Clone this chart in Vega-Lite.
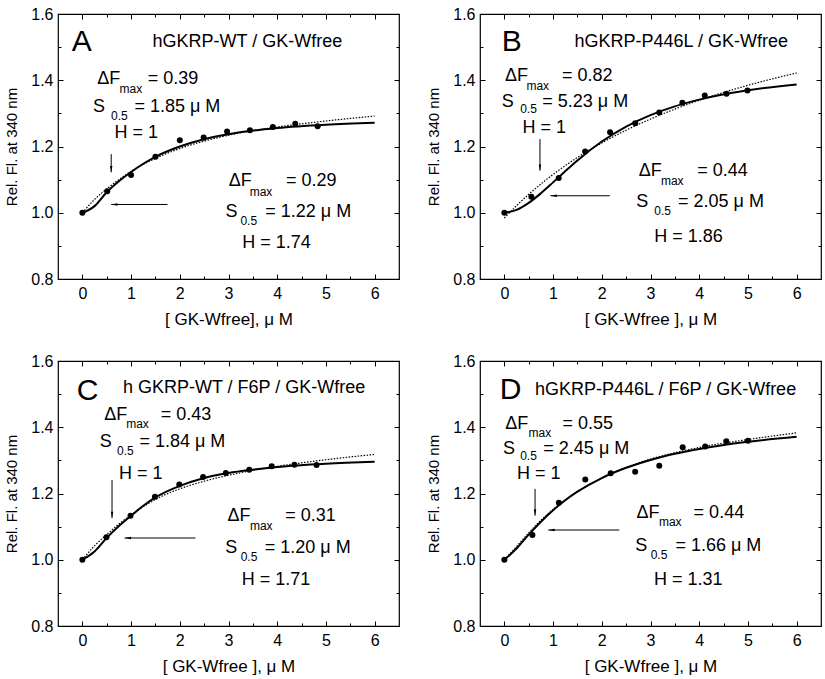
{
"$schema": "https://vega.github.io/schema/vega-lite/v6.json",
"background": "white",
"padding": {"left": 4, "top": 5, "right": 5, "bottom": 5},
"config": {
 "view": {"stroke": "black", "strokeWidth": 1.2},
 "axis": {"domain": false, "grid": false, "tickColor": "black", "tickWidth": 1, "labelFont": "Liberation Sans", "labelFontSize": 16, "labelColor": "black", "titleFont": "Liberation Sans", "titleFontSize": 17, "titleFontWeight": "normal", "titleColor": "black"},
 "axisLeft": {"titleFontSize": 15},
 "text": {"font": "Liberation Sans", "color": "black"}
},
"datasets": {
 "pts": [
  {"p":"A","x":0,"y":1.0},{"p":"A","x":0.51,"y":1.065},{"p":"A","x":1.0,"y":1.114},{"p":"A","x":1.5,"y":1.169},{"p":"A","x":2.0,"y":1.219},{"p":"A","x":2.49,"y":1.227},{"p":"A","x":2.97,"y":1.245},{"p":"A","x":3.44,"y":1.249},{"p":"A","x":3.91,"y":1.259},{"p":"A","x":4.37,"y":1.269},{"p":"A","x":4.83,"y":1.261},
  {"p":"B","x":0,"y":1.0},{"p":"B","x":0.555,"y":1.048},{"p":"B","x":1.116,"y":1.105},{"p":"B","x":1.658,"y":1.185},{"p":"B","x":2.17,"y":1.243},{"p":"B","x":2.686,"y":1.27},{"p":"B","x":3.18,"y":1.303},{"p":"B","x":3.654,"y":1.332},{"p":"B","x":4.114,"y":1.354},{"p":"B","x":4.56,"y":1.359},{"p":"B","x":4.99,"y":1.369},
  {"p":"C","x":0,"y":1.0},{"p":"C","x":0.494,"y":1.068},{"p":"C","x":0.988,"y":1.133},{"p":"C","x":1.49,"y":1.19},{"p":"C","x":1.99,"y":1.227},{"p":"C","x":2.478,"y":1.25},{"p":"C","x":2.945,"y":1.262},{"p":"C","x":3.426,"y":1.272},{"p":"C","x":3.886,"y":1.282},{"p":"C","x":4.353,"y":1.287},{"p":"C","x":4.807,"y":1.286},
  {"p":"D","x":0,"y":1.0},{"p":"D","x":0.576,"y":1.075},{"p":"D","x":1.119,"y":1.172},{"p":"D","x":1.661,"y":1.242},{"p":"D","x":2.183,"y":1.261},{"p":"D","x":2.685,"y":1.266},{"p":"D","x":3.18,"y":1.284},{"p":"D","x":3.661,"y":1.34},{"p":"D","x":4.122,"y":1.342},{"p":"D","x":4.556,"y":1.358},{"p":"D","x":5.0,"y":1.359}
 ],
 "fit": [
  {"p":"A","m":"hill","x":0,"y":1.0},{"p":"A","m":"hill","x":0.25,"y":1.02},{"p":"A","m":"hill","x":0.5,"y":1.062},{"p":"A","m":"hill","x":0.75,"y":1.095},{"p":"A","m":"hill","x":1,"y":1.123},{"p":"A","m":"hill","x":1.25,"y":1.148},{"p":"A","m":"hill","x":1.5,"y":1.169},{"p":"A","m":"hill","x":2,"y":1.2},{"p":"A","m":"hill","x":2.5,"y":1.222},{"p":"A","m":"hill","x":3,"y":1.237},{"p":"A","m":"hill","x":3.5,"y":1.248},{"p":"A","m":"hill","x":4,"y":1.256},{"p":"A","m":"hill","x":5,"y":1.266},{"p":"A","m":"hill","x":6,"y":1.272},
  {"p":"A","m":"hyp","x":0,"y":1.0},{"p":"A","m":"hyp","x":0.25,"y":1.04},{"p":"A","m":"hyp","x":0.5,"y":1.072},{"p":"A","m":"hyp","x":0.75,"y":1.1},{"p":"A","m":"hyp","x":1,"y":1.125},{"p":"A","m":"hyp","x":1.25,"y":1.146},{"p":"A","m":"hyp","x":1.5,"y":1.164},{"p":"A","m":"hyp","x":2,"y":1.194},{"p":"A","m":"hyp","x":2.5,"y":1.216},{"p":"A","m":"hyp","x":3,"y":1.234},{"p":"A","m":"hyp","x":3.5,"y":1.248},{"p":"A","m":"hyp","x":4,"y":1.259},{"p":"A","m":"hyp","x":5,"y":1.277},{"p":"A","m":"hyp","x":6,"y":1.292},
  {"p":"B","m":"hill","x":0,"y":1.0},{"p":"B","m":"hill","x":0.25,"y":1.0086},{"p":"B","m":"hill","x":0.5,"y":1.0297},{"p":"B","m":"hill","x":0.75,"y":1.0588},{"p":"B","m":"hill","x":1,"y":1.0917},{"p":"B","m":"hill","x":1.25,"y":1.1254},{"p":"B","m":"hill","x":1.5,"y":1.1579},{"p":"B","m":"hill","x":2,"y":1.215},{"p":"B","m":"hill","x":2.5,"y":1.2602},{"p":"B","m":"hill","x":3,"y":1.2948},{"p":"B","m":"hill","x":3.5,"y":1.3212},{"p":"B","m":"hill","x":4,"y":1.3415},{"p":"B","m":"hill","x":5,"y":1.3696},{"p":"B","m":"hill","x":6,"y":1.3874},
  {"p":"B","m":"hyp","x":0,"y":0.984},{"p":"B","m":"hyp","x":0.25,"y":1.0214},{"p":"B","m":"hyp","x":0.5,"y":1.0556},{"p":"B","m":"hyp","x":0.75,"y":1.0868},{"p":"B","m":"hyp","x":1,"y":1.1156},{"p":"B","m":"hyp","x":1.25,"y":1.1422},{"p":"B","m":"hyp","x":1.5,"y":1.1668},{"p":"B","m":"hyp","x":2,"y":1.2108},{"p":"B","m":"hyp","x":2.5,"y":1.2492},{"p":"B","m":"hyp","x":3,"y":1.2829},{"p":"B","m":"hyp","x":3.5,"y":1.3128},{"p":"B","m":"hyp","x":4,"y":1.3394},{"p":"B","m":"hyp","x":5,"y":1.3848},{"p":"B","m":"hyp","x":6,"y":1.4221},
  {"p":"C","m":"hill","x":0,"y":1.0},{"p":"C","m":"hill","x":0.25,"y":1.025},{"p":"C","m":"hill","x":0.5,"y":1.066},{"p":"C","m":"hill","x":0.75,"y":1.102},{"p":"C","m":"hill","x":1,"y":1.133},{"p":"C","m":"hill","x":1.25,"y":1.163},{"p":"C","m":"hill","x":1.5,"y":1.188},{"p":"C","m":"hill","x":2,"y":1.223},{"p":"C","m":"hill","x":2.5,"y":1.247},{"p":"C","m":"hill","x":3,"y":1.262},{"p":"C","m":"hill","x":3.5,"y":1.272},{"p":"C","m":"hill","x":4,"y":1.28},{"p":"C","m":"hill","x":5,"y":1.29},{"p":"C","m":"hill","x":6,"y":1.296},
  {"p":"C","m":"hyp","x":0,"y":1.0},{"p":"C","m":"hyp","x":0.25,"y":1.042},{"p":"C","m":"hyp","x":0.5,"y":1.076},{"p":"C","m":"hyp","x":0.75,"y":1.108},{"p":"C","m":"hyp","x":1,"y":1.135},{"p":"C","m":"hyp","x":1.25,"y":1.16},{"p":"C","m":"hyp","x":1.5,"y":1.182},{"p":"C","m":"hyp","x":2,"y":1.214},{"p":"C","m":"hyp","x":2.5,"y":1.237},{"p":"C","m":"hyp","x":3,"y":1.255},{"p":"C","m":"hyp","x":3.5,"y":1.27},{"p":"C","m":"hyp","x":4,"y":1.282},{"p":"C","m":"hyp","x":5,"y":1.302},{"p":"C","m":"hyp","x":6,"y":1.318},
  {"p":"D","m":"hill","x":0,"y":1.0},{"p":"D","m":"hill","x":0.25,"y":1.034},{"p":"D","m":"hill","x":0.5,"y":1.0757},{"p":"D","m":"hill","x":0.75,"y":1.1149},{"p":"D","m":"hill","x":1,"y":1.1496},{"p":"D","m":"hill","x":1.25,"y":1.1796},{"p":"D","m":"hill","x":1.5,"y":1.2054},{"p":"D","m":"hill","x":2,"y":1.2467},{"p":"D","m":"hill","x":2.5,"y":1.2776},{"p":"D","m":"hill","x":3,"y":1.3013},{"p":"D","m":"hill","x":3.5,"y":1.3197},{"p":"D","m":"hill","x":4,"y":1.3344},{"p":"D","m":"hill","x":5,"y":1.356},{"p":"D","m":"hill","x":6,"y":1.3711},
  {"p":"D","m":"hyp","x":0,"y":1.0},{"p":"D","m":"hyp","x":0.25,"y":1.04},{"p":"D","m":"hyp","x":0.5,"y":1.081},{"p":"D","m":"hyp","x":0.75,"y":1.119},{"p":"D","m":"hyp","x":1,"y":1.152},{"p":"D","m":"hyp","x":1.25,"y":1.181},{"p":"D","m":"hyp","x":1.5,"y":1.206},{"p":"D","m":"hyp","x":2,"y":1.247},{"p":"D","m":"hyp","x":2.5,"y":1.279},{"p":"D","m":"hyp","x":3,"y":1.304},{"p":"D","m":"hyp","x":3.5,"y":1.323},{"p":"D","m":"hyp","x":4,"y":1.339},{"p":"D","m":"hyp","x":5,"y":1.363},{"p":"D","m":"hyp","x":6,"y":1.383}
 ],
 "lbl": [
  {"p":"A","k":"big","x":-0.22,"y":1.514,"t":"A"},{"p":"A","k":"main","x":1.44,"y":1.514,"t":"hGKRP-WT / GK-Wfree"},
  {"p":"A","k":"main","x":0.306,"y":1.4035,"t":"ΔF"},{"p":"A","k":"main","x":1.34,"y":1.4035,"t":"= 0.39"},{"p":"A","k":"main","x":0.218,"y":1.318,"t":"S"},{"p":"A","k":"main","x":1.068,"y":1.318,"t":"= 1.85 μ M"},{"p":"A","k":"main","x":0.66,"y":1.2395,"t":"H = 1"},
  {"p":"A","k":"main","x":3.007,"y":1.0946,"t":"ΔF"},{"p":"A","k":"main","x":4.18,"y":1.0946,"t":"= 0.29"},{"p":"A","k":"main","x":2.94,"y":1.001,"t":"S"},{"p":"A","k":"main","x":3.755,"y":1.001,"t":"= 1.22 μ M"},{"p":"A","k":"main","x":3.28,"y":0.908,"t":"H = 1.74"},
  {"p":"A","k":"sub","x":0.762,"y":1.375,"t":"max"},{"p":"A","k":"sub","x":0.59,"y":1.293,"t":"0.5"},{"p":"A","k":"sub","x":3.435,"y":1.064,"t":"max"},{"p":"A","k":"sub","x":3.245,"y":0.976,"t":"0.5"},
  {"p":"B","k":"big","x":-0.054,"y":1.516,"t":"B"},{"p":"B","k":"main","x":1.44,"y":1.514,"t":"hGKRP-P446L / GK-Wfree"},
  {"p":"B","k":"main","x":0.014,"y":1.4116,"t":"ΔF"},{"p":"B","k":"main","x":1.184,"y":1.4116,"t":"= 0.82"},{"p":"B","k":"main","x":-0.054,"y":1.333,"t":"S"},{"p":"B","k":"main","x":0.778,"y":1.333,"t":"= 5.23 μ M"},{"p":"B","k":"main","x":0.372,"y":1.2556,"t":"H = 1"},
  {"p":"B","k":"main","x":2.76,"y":1.1268,"t":"ΔF"},{"p":"B","k":"main","x":3.958,"y":1.1268,"t":"= 0.44"},{"p":"B","k":"main","x":2.706,"y":1.031,"t":"S"},{"p":"B","k":"main","x":3.566,"y":1.031,"t":"= 2.05 μ M"},{"p":"B","k":"main","x":3.078,"y":0.9255,"t":"H = 1.86"},
  {"p":"B","k":"sub","x":0.453,"y":1.383,"t":"max"},{"p":"B","k":"sub","x":0.325,"y":1.313,"t":"0.5"},{"p":"B","k":"sub","x":3.214,"y":1.0966,"t":"max"},{"p":"B","k":"sub","x":3.078,"y":1.004,"t":"0.5"},
  {"p":"C","k":"big","x":-0.115,"y":1.509,"t":"C"},{"p":"C","k":"main","x":0.833,"y":1.517,"t":"h GKRP-WT / F6P / GK-Wfree"},
  {"p":"C","k":"main","x":0.447,"y":1.4366,"t":"ΔF"},{"p":"C","k":"main","x":1.611,"y":1.4366,"t":"= 0.43"},{"p":"C","k":"main","x":0.359,"y":1.356,"t":"S"},{"p":"C","k":"main","x":1.171,"y":1.356,"t":"= 1.84 μ M"},{"p":"C","k":"main","x":0.7515,"y":1.259,"t":"H = 1"},
  {"p":"C","k":"main","x":2.979,"y":1.131,"t":"ΔF"},{"p":"C","k":"main","x":4.164,"y":1.131,"t":"= 0.31"},{"p":"C","k":"main","x":2.932,"y":1.0356,"t":"S"},{"p":"C","k":"main","x":3.744,"y":1.0356,"t":"= 1.20 μ M"},{"p":"C","k":"main","x":3.27,"y":0.94,"t":"H = 1.71"},
  {"p":"C","k":"sub","x":0.9,"y":1.4085,"t":"max"},{"p":"C","k":"sub","x":0.711,"y":1.329,"t":"0.5"},{"p":"C","k":"sub","x":3.44,"y":1.101,"t":"max"},{"p":"C","k":"sub","x":3.25,"y":1.0085,"t":"0.5"},
  {"p":"D","k":"big","x":-0.095,"y":1.5136,"t":"D"},{"p":"D","k":"main","x":0.63,"y":1.5136,"t":"hGKRP-P446L / F6P / GK-Wfree"},
  {"p":"D","k":"main","x":0.02,"y":1.4107,"t":"ΔF"},{"p":"D","k":"main","x":1.193,"y":1.4107,"t":"= 0.55"},{"p":"D","k":"main","x":-0.027,"y":1.335,"t":"S"},{"p":"D","k":"main","x":0.8,"y":1.335,"t":"= 2.45 μ M"},{"p":"D","k":"main","x":0.258,"y":1.2594,"t":"H = 1"},
  {"p":"D","k":"main","x":2.712,"y":1.14,"t":"ΔF"},{"p":"D","k":"main","x":3.885,"y":1.14,"t":"= 0.44"},{"p":"D","k":"main","x":2.685,"y":1.0424,"t":"S"},{"p":"D","k":"main","x":3.512,"y":1.0424,"t":"= 1.66 μ M"},{"p":"D","k":"main","x":3.071,"y":0.9384,"t":"H = 1.31"},
  {"p":"D","k":"sub","x":0.495,"y":1.3824,"t":"max"},{"p":"D","k":"sub","x":0.325,"y":1.314,"t":"0.5"},{"p":"D","k":"sub","x":3.173,"y":1.113,"t":"max"},{"p":"D","k":"sub","x":3.003,"y":1.015,"t":"0.5"}
 ],
 "arr": [
  {"p":"A","x":0.592,"y":1.177,"x2":0.592,"y2":1.122,"d":"down"},{"p":"A","x":1.748,"y":1.025,"x2":0.592,"y2":1.025,"d":"left"},
  {"p":"B","x":0.731,"y":1.2224,"x2":0.731,"y2":1.1268,"d":"down"},{"p":"B","x":2.165,"y":1.0513,"x2":0.947,"y2":1.0513,"d":"left"},
  {"p":"C","x":0.609,"y":1.241,"x2":0.609,"y2":1.1258,"d":"down"},{"p":"C","x":2.322,"y":1.0657,"x2":0.867,"y2":1.0657,"d":"left"},
  {"p":"D","x":0.63,"y":1.214,"x2":0.63,"y2":1.133,"d":"down"},{"p":"D","x":2.359,"y":1.0898,"x2":0.902,"y2":1.0898,"d":"left"}
 ]
},
"spacing": 24,
"vconcat": [
{"hconcat": [
{"width": 341, "height": 265, "resolve": {"axis": {"x": "independent", "y": "independent"}},
 "layer": [
  {"data": {"name": "pts"}, "transform": [{"filter": "datum.p == 'A'"}], "mark": {"type": "circle", "color": "black", "size": 36, "opacity": 1},
   "encoding": {"x": {"field": "x", "type": "quantitative", "scale": {"domain": [-0.5, 6.5], "nice": false, "zero": false}, "axis": {"orient": "bottom", "values": [0,1,2,3,4,5,6], "tickSize": -5, "labelPadding": 11, "title": "[ GK-Wfree], μ M", "titlePadding": 10}},
                "y": {"field": "y", "type": "quantitative", "scale": {"domain": [0.8, 1.6], "nice": false, "zero": false}, "axis": {"orient": "left", "values": [0.8,1.0,1.2,1.4,1.6], "format": ".1f", "tickSize": -5, "labelPadding": 10, "title": "Rel. Fl. at 340 nm", "titlePadding": 11}}}},
  {"data": {"name": "fit"}, "transform": [{"filter": "datum.p == 'A' && datum.m == 'hill'"}], "mark": {"type": "line", "color": "black", "strokeWidth": 2, "interpolate": "monotone"},
   "encoding": {"x": {"field": "x", "type": "quantitative", "scale": {"domain": [-0.5, 6.5], "nice": false, "zero": false}, "axis": {"orient": "top", "values": [0,1,2,3,4,5,6], "tickSize": -5, "labels": false, "title": null}},
                "y": {"field": "y", "type": "quantitative", "scale": {"domain": [0.8, 1.6], "nice": false, "zero": false}, "axis": {"orient": "right", "values": [0.8,1.0,1.2,1.4,1.6], "tickSize": -5, "labels": false, "title": null}}}},
  {"data": {"name": "fit"}, "transform": [{"filter": "datum.p == 'A' && datum.m == 'hyp'"}], "mark": {"type": "line", "color": "black", "strokeWidth": 1.2, "strokeDash": [1.5, 1.5], "interpolate": "monotone"},
   "encoding": {"x": {"field": "x", "type": "quantitative", "scale": {"domain": [-0.5, 6.5], "nice": false, "zero": false}, "axis": {"orient": "bottom", "values": [0.5,1.5,2.5,3.5,4.5,5.5], "tickSize": -3, "labels": false, "title": null}},
                "y": {"field": "y", "type": "quantitative", "scale": {"domain": [0.8, 1.6], "nice": false, "zero": false}, "axis": {"orient": "left", "values": [0.9,1.1,1.3,1.5], "tickSize": -3, "labels": false, "title": null}}}},
  {"data": {"name": "lbl"}, "transform": [{"filter": "datum.p == 'A' && datum.k == 'main'"}], "mark": {"type": "text", "align": "left", "baseline": "middle", "fontSize": 18},
   "encoding": {"x": {"field": "x", "type": "quantitative", "scale": {"domain": [-0.5, 6.5], "nice": false, "zero": false}, "axis": {"orient": "top", "values": [0.5,1.5,2.5,3.5,4.5,5.5], "tickSize": -3, "labels": false, "title": null}},
                "y": {"field": "y", "type": "quantitative", "scale": {"domain": [0.8, 1.6], "nice": false, "zero": false}, "axis": {"orient": "right", "values": [0.9,1.1,1.3,1.5], "tickSize": -3, "labels": false, "title": null}},
                "text": {"field": "t"}}},
  {"data": {"name": "lbl"}, "transform": [{"filter": "datum.p == 'A' && datum.k == 'sub'"}], "mark": {"type": "text", "align": "left", "baseline": "middle", "fontSize": 12},
   "encoding": {"x": {"field": "x", "type": "quantitative", "axis": null}, "y": {"field": "y", "type": "quantitative", "axis": null}, "text": {"field": "t"}}},
  {"data": {"name": "lbl"}, "transform": [{"filter": "datum.p == 'A' && datum.k == 'big'"}], "mark": {"type": "text", "align": "left", "baseline": "middle", "fontSize": 30},
   "encoding": {"x": {"field": "x", "type": "quantitative", "axis": null}, "y": {"field": "y", "type": "quantitative", "axis": null}, "text": {"field": "t"}}},
  {"data": {"name": "arr"}, "transform": [{"filter": "datum.p == 'A'"}], "mark": {"type": "rule", "color": "black", "strokeWidth": 1},
   "encoding": {"x": {"field": "x", "type": "quantitative", "axis": null}, "y": {"field": "y", "type": "quantitative", "axis": null}, "x2": {"field": "x2"}, "y2": {"field": "y2"}}},
  {"data": {"name": "arr"}, "transform": [{"filter": "datum.p == 'A'"}], "mark": {"type": "point", "filled": true, "color": "black", "size": 24, "opacity": 1},
   "encoding": {"x": {"field": "x2", "type": "quantitative", "axis": null}, "y": {"field": "y2", "type": "quantitative", "axis": null},
                "shape": {"field": "d", "type": "nominal", "scale": {"domain": ["down", "left"], "range": ["M-0.5,-2.6L0,0L0.5,-2.6Z", "M2.6,-0.5L0,0L2.6,0.5Z"]}, "legend": null}}}
 ]},
{"width": 341, "height": 265, "resolve": {"axis": {"x": "independent", "y": "independent"}},
 "layer": [
  {"data": {"name": "pts"}, "transform": [{"filter": "datum.p == 'B'"}], "mark": {"type": "circle", "color": "black", "size": 36, "opacity": 1},
   "encoding": {"x": {"field": "x", "type": "quantitative", "scale": {"domain": [-0.5, 6.5], "nice": false, "zero": false}, "axis": {"orient": "bottom", "values": [0,1,2,3,4,5,6], "tickSize": -5, "labelPadding": 11, "title": "[ GK-Wfree ], μ M", "titlePadding": 10}},
                "y": {"field": "y", "type": "quantitative", "scale": {"domain": [0.8, 1.6], "nice": false, "zero": false}, "axis": {"orient": "left", "values": [0.8,1.0,1.2,1.4,1.6], "format": ".1f", "tickSize": -5, "labelPadding": 10, "title": "Rel. Fl. at 340 nm", "titlePadding": 11}}}},
  {"data": {"name": "fit"}, "transform": [{"filter": "datum.p == 'B' && datum.m == 'hill'"}], "mark": {"type": "line", "color": "black", "strokeWidth": 2, "interpolate": "monotone"},
   "encoding": {"x": {"field": "x", "type": "quantitative", "scale": {"domain": [-0.5, 6.5], "nice": false, "zero": false}, "axis": {"orient": "top", "values": [0,1,2,3,4,5,6], "tickSize": -5, "labels": false, "title": null}},
                "y": {"field": "y", "type": "quantitative", "scale": {"domain": [0.8, 1.6], "nice": false, "zero": false}, "axis": {"orient": "right", "values": [0.8,1.0,1.2,1.4,1.6], "tickSize": -5, "labels": false, "title": null}}}},
  {"data": {"name": "fit"}, "transform": [{"filter": "datum.p == 'B' && datum.m == 'hyp'"}], "mark": {"type": "line", "color": "black", "strokeWidth": 1.2, "strokeDash": [1.5, 1.5], "interpolate": "monotone"},
   "encoding": {"x": {"field": "x", "type": "quantitative", "scale": {"domain": [-0.5, 6.5], "nice": false, "zero": false}, "axis": {"orient": "bottom", "values": [0.5,1.5,2.5,3.5,4.5,5.5], "tickSize": -3, "labels": false, "title": null}},
                "y": {"field": "y", "type": "quantitative", "scale": {"domain": [0.8, 1.6], "nice": false, "zero": false}, "axis": {"orient": "left", "values": [0.9,1.1,1.3,1.5], "tickSize": -3, "labels": false, "title": null}}}},
  {"data": {"name": "lbl"}, "transform": [{"filter": "datum.p == 'B' && datum.k == 'main'"}], "mark": {"type": "text", "align": "left", "baseline": "middle", "fontSize": 18},
   "encoding": {"x": {"field": "x", "type": "quantitative", "scale": {"domain": [-0.5, 6.5], "nice": false, "zero": false}, "axis": {"orient": "top", "values": [0.5,1.5,2.5,3.5,4.5,5.5], "tickSize": -3, "labels": false, "title": null}},
                "y": {"field": "y", "type": "quantitative", "scale": {"domain": [0.8, 1.6], "nice": false, "zero": false}, "axis": {"orient": "right", "values": [0.9,1.1,1.3,1.5], "tickSize": -3, "labels": false, "title": null}},
                "text": {"field": "t"}}},
  {"data": {"name": "lbl"}, "transform": [{"filter": "datum.p == 'B' && datum.k == 'sub'"}], "mark": {"type": "text", "align": "left", "baseline": "middle", "fontSize": 12},
   "encoding": {"x": {"field": "x", "type": "quantitative", "axis": null}, "y": {"field": "y", "type": "quantitative", "axis": null}, "text": {"field": "t"}}},
  {"data": {"name": "lbl"}, "transform": [{"filter": "datum.p == 'B' && datum.k == 'big'"}], "mark": {"type": "text", "align": "left", "baseline": "middle", "fontSize": 30},
   "encoding": {"x": {"field": "x", "type": "quantitative", "axis": null}, "y": {"field": "y", "type": "quantitative", "axis": null}, "text": {"field": "t"}}},
  {"data": {"name": "arr"}, "transform": [{"filter": "datum.p == 'B'"}], "mark": {"type": "rule", "color": "black", "strokeWidth": 1},
   "encoding": {"x": {"field": "x", "type": "quantitative", "axis": null}, "y": {"field": "y", "type": "quantitative", "axis": null}, "x2": {"field": "x2"}, "y2": {"field": "y2"}}},
  {"data": {"name": "arr"}, "transform": [{"filter": "datum.p == 'B'"}], "mark": {"type": "point", "filled": true, "color": "black", "size": 24, "opacity": 1},
   "encoding": {"x": {"field": "x2", "type": "quantitative", "axis": null}, "y": {"field": "y2", "type": "quantitative", "axis": null},
                "shape": {"field": "d", "type": "nominal", "scale": {"domain": ["down", "left"], "range": ["M-0.5,-2.6L0,0L0.5,-2.6Z", "M2.6,-0.5L0,0L2.6,0.5Z"]}, "legend": null}}}
 ]}
], "spacing": 25},
{"hconcat": [
{"width": 341, "height": 265, "resolve": {"axis": {"x": "independent", "y": "independent"}},
 "layer": [
  {"data": {"name": "pts"}, "transform": [{"filter": "datum.p == 'C'"}], "mark": {"type": "circle", "color": "black", "size": 36, "opacity": 1},
   "encoding": {"x": {"field": "x", "type": "quantitative", "scale": {"domain": [-0.5, 6.5], "nice": false, "zero": false}, "axis": {"orient": "bottom", "values": [0,1,2,3,4,5,6], "tickSize": -5, "labelPadding": 11, "title": "[ GK-Wfree ], μ M", "titlePadding": 10}},
                "y": {"field": "y", "type": "quantitative", "scale": {"domain": [0.8, 1.6], "nice": false, "zero": false}, "axis": {"orient": "left", "values": [0.8,1.0,1.2,1.4,1.6], "format": ".1f", "tickSize": -5, "labelPadding": 10, "title": "Rel. Fl. at 340 nm", "titlePadding": 11}}}},
  {"data": {"name": "fit"}, "transform": [{"filter": "datum.p == 'C' && datum.m == 'hill'"}], "mark": {"type": "line", "color": "black", "strokeWidth": 2, "interpolate": "monotone"},
   "encoding": {"x": {"field": "x", "type": "quantitative", "scale": {"domain": [-0.5, 6.5], "nice": false, "zero": false}, "axis": {"orient": "top", "values": [0,1,2,3,4,5,6], "tickSize": -5, "labels": false, "title": null}},
                "y": {"field": "y", "type": "quantitative", "scale": {"domain": [0.8, 1.6], "nice": false, "zero": false}, "axis": {"orient": "right", "values": [0.8,1.0,1.2,1.4,1.6], "tickSize": -5, "labels": false, "title": null}}}},
  {"data": {"name": "fit"}, "transform": [{"filter": "datum.p == 'C' && datum.m == 'hyp'"}], "mark": {"type": "line", "color": "black", "strokeWidth": 1.2, "strokeDash": [1.5, 1.5], "interpolate": "monotone"},
   "encoding": {"x": {"field": "x", "type": "quantitative", "scale": {"domain": [-0.5, 6.5], "nice": false, "zero": false}, "axis": {"orient": "bottom", "values": [0.5,1.5,2.5,3.5,4.5,5.5], "tickSize": -3, "labels": false, "title": null}},
                "y": {"field": "y", "type": "quantitative", "scale": {"domain": [0.8, 1.6], "nice": false, "zero": false}, "axis": {"orient": "left", "values": [0.9,1.1,1.3,1.5], "tickSize": -3, "labels": false, "title": null}}}},
  {"data": {"name": "lbl"}, "transform": [{"filter": "datum.p == 'C' && datum.k == 'main'"}], "mark": {"type": "text", "align": "left", "baseline": "middle", "fontSize": 18},
   "encoding": {"x": {"field": "x", "type": "quantitative", "scale": {"domain": [-0.5, 6.5], "nice": false, "zero": false}, "axis": {"orient": "top", "values": [0.5,1.5,2.5,3.5,4.5,5.5], "tickSize": -3, "labels": false, "title": null}},
                "y": {"field": "y", "type": "quantitative", "scale": {"domain": [0.8, 1.6], "nice": false, "zero": false}, "axis": {"orient": "right", "values": [0.9,1.1,1.3,1.5], "tickSize": -3, "labels": false, "title": null}},
                "text": {"field": "t"}}},
  {"data": {"name": "lbl"}, "transform": [{"filter": "datum.p == 'C' && datum.k == 'sub'"}], "mark": {"type": "text", "align": "left", "baseline": "middle", "fontSize": 12},
   "encoding": {"x": {"field": "x", "type": "quantitative", "axis": null}, "y": {"field": "y", "type": "quantitative", "axis": null}, "text": {"field": "t"}}},
  {"data": {"name": "lbl"}, "transform": [{"filter": "datum.p == 'C' && datum.k == 'big'"}], "mark": {"type": "text", "align": "left", "baseline": "middle", "fontSize": 30},
   "encoding": {"x": {"field": "x", "type": "quantitative", "axis": null}, "y": {"field": "y", "type": "quantitative", "axis": null}, "text": {"field": "t"}}},
  {"data": {"name": "arr"}, "transform": [{"filter": "datum.p == 'C'"}], "mark": {"type": "rule", "color": "black", "strokeWidth": 1},
   "encoding": {"x": {"field": "x", "type": "quantitative", "axis": null}, "y": {"field": "y", "type": "quantitative", "axis": null}, "x2": {"field": "x2"}, "y2": {"field": "y2"}}},
  {"data": {"name": "arr"}, "transform": [{"filter": "datum.p == 'C'"}], "mark": {"type": "point", "filled": true, "color": "black", "size": 24, "opacity": 1},
   "encoding": {"x": {"field": "x2", "type": "quantitative", "axis": null}, "y": {"field": "y2", "type": "quantitative", "axis": null},
                "shape": {"field": "d", "type": "nominal", "scale": {"domain": ["down", "left"], "range": ["M-0.5,-2.6L0,0L0.5,-2.6Z", "M2.6,-0.5L0,0L2.6,0.5Z"]}, "legend": null}}}
 ]},
{"width": 341, "height": 265, "resolve": {"axis": {"x": "independent", "y": "independent"}},
 "layer": [
  {"data": {"name": "pts"}, "transform": [{"filter": "datum.p == 'D'"}], "mark": {"type": "circle", "color": "black", "size": 36, "opacity": 1},
   "encoding": {"x": {"field": "x", "type": "quantitative", "scale": {"domain": [-0.5, 6.5], "nice": false, "zero": false}, "axis": {"orient": "bottom", "values": [0,1,2,3,4,5,6], "tickSize": -5, "labelPadding": 11, "title": "[ GK-Wfree ], μ M", "titlePadding": 10}},
                "y": {"field": "y", "type": "quantitative", "scale": {"domain": [0.8, 1.6], "nice": false, "zero": false}, "axis": {"orient": "left", "values": [0.8,1.0,1.2,1.4,1.6], "format": ".1f", "tickSize": -5, "labelPadding": 10, "title": "Rel. Fl. at 340 nm", "titlePadding": 11}}}},
  {"data": {"name": "fit"}, "transform": [{"filter": "datum.p == 'D' && datum.m == 'hill'"}], "mark": {"type": "line", "color": "black", "strokeWidth": 2, "interpolate": "monotone"},
   "encoding": {"x": {"field": "x", "type": "quantitative", "scale": {"domain": [-0.5, 6.5], "nice": false, "zero": false}, "axis": {"orient": "top", "values": [0,1,2,3,4,5,6], "tickSize": -5, "labels": false, "title": null}},
                "y": {"field": "y", "type": "quantitative", "scale": {"domain": [0.8, 1.6], "nice": false, "zero": false}, "axis": {"orient": "right", "values": [0.8,1.0,1.2,1.4,1.6], "tickSize": -5, "labels": false, "title": null}}}},
  {"data": {"name": "fit"}, "transform": [{"filter": "datum.p == 'D' && datum.m == 'hyp'"}], "mark": {"type": "line", "color": "black", "strokeWidth": 1.2, "strokeDash": [1.5, 1.5], "interpolate": "monotone"},
   "encoding": {"x": {"field": "x", "type": "quantitative", "scale": {"domain": [-0.5, 6.5], "nice": false, "zero": false}, "axis": {"orient": "bottom", "values": [0.5,1.5,2.5,3.5,4.5,5.5], "tickSize": -3, "labels": false, "title": null}},
                "y": {"field": "y", "type": "quantitative", "scale": {"domain": [0.8, 1.6], "nice": false, "zero": false}, "axis": {"orient": "left", "values": [0.9,1.1,1.3,1.5], "tickSize": -3, "labels": false, "title": null}}}},
  {"data": {"name": "lbl"}, "transform": [{"filter": "datum.p == 'D' && datum.k == 'main'"}], "mark": {"type": "text", "align": "left", "baseline": "middle", "fontSize": 18},
   "encoding": {"x": {"field": "x", "type": "quantitative", "scale": {"domain": [-0.5, 6.5], "nice": false, "zero": false}, "axis": {"orient": "top", "values": [0.5,1.5,2.5,3.5,4.5,5.5], "tickSize": -3, "labels": false, "title": null}},
                "y": {"field": "y", "type": "quantitative", "scale": {"domain": [0.8, 1.6], "nice": false, "zero": false}, "axis": {"orient": "right", "values": [0.9,1.1,1.3,1.5], "tickSize": -3, "labels": false, "title": null}},
                "text": {"field": "t"}}},
  {"data": {"name": "lbl"}, "transform": [{"filter": "datum.p == 'D' && datum.k == 'sub'"}], "mark": {"type": "text", "align": "left", "baseline": "middle", "fontSize": 12},
   "encoding": {"x": {"field": "x", "type": "quantitative", "axis": null}, "y": {"field": "y", "type": "quantitative", "axis": null}, "text": {"field": "t"}}},
  {"data": {"name": "lbl"}, "transform": [{"filter": "datum.p == 'D' && datum.k == 'big'"}], "mark": {"type": "text", "align": "left", "baseline": "middle", "fontSize": 30},
   "encoding": {"x": {"field": "x", "type": "quantitative", "axis": null}, "y": {"field": "y", "type": "quantitative", "axis": null}, "text": {"field": "t"}}},
  {"data": {"name": "arr"}, "transform": [{"filter": "datum.p == 'D'"}], "mark": {"type": "rule", "color": "black", "strokeWidth": 1},
   "encoding": {"x": {"field": "x", "type": "quantitative", "axis": null}, "y": {"field": "y", "type": "quantitative", "axis": null}, "x2": {"field": "x2"}, "y2": {"field": "y2"}}},
  {"data": {"name": "arr"}, "transform": [{"filter": "datum.p == 'D'"}], "mark": {"type": "point", "filled": true, "color": "black", "size": 24, "opacity": 1},
   "encoding": {"x": {"field": "x2", "type": "quantitative", "axis": null}, "y": {"field": "y2", "type": "quantitative", "axis": null},
                "shape": {"field": "d", "type": "nominal", "scale": {"domain": ["down", "left"], "range": ["M-0.5,-2.6L0,0L0.5,-2.6Z", "M2.6,-0.5L0,0L2.6,0.5Z"]}, "legend": null}}}
 ]}
], "spacing": 25}
]
}
